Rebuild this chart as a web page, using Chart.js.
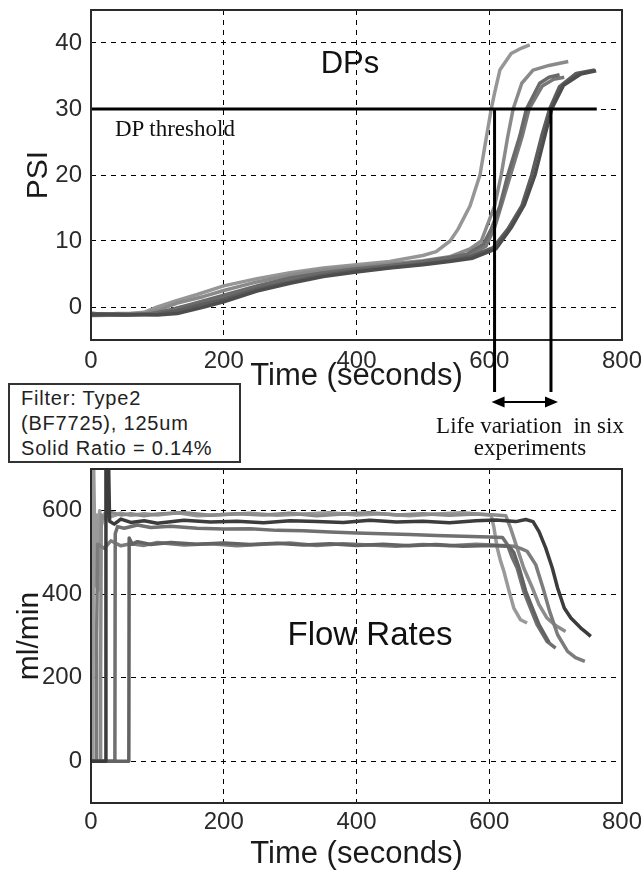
<!DOCTYPE html>
<html>
<head>
<meta charset="utf-8">
<script src="https://cdn.jsdelivr.net/npm/chart.js@4.4.1/dist/chart.umd.min.js"></script>
<style>
  html, body { margin: 0; padding: 0; background: #fff; }
  #wrap { position: relative; width: 641px; height: 872px; overflow: hidden; }
  canvas { position: absolute; left: 0; top: 0; }
  .ann { position: absolute; white-space: nowrap; color: #111; z-index: 5; line-height: 1; }
  .sans { font-family: 'Liberation Sans', Arial, sans-serif; }
  .serif { font-family: 'Liberation Serif', 'Times New Roman', serif; }
  #infobox { position: absolute; left: 8px; top: 383px; width: 233px; height: 80px; box-sizing: border-box;
             border: 2px solid #333; z-index: 5; background: #fff; }
  #infobox div { position: absolute; left: 11px; font-family: 'Liberation Sans', Arial, sans-serif; font-size: 20px;
                 line-height: 25px; letter-spacing: 0.8px; color: #222; white-space: nowrap; }
</style>
</head>
<body>
<div id="wrap">
  <canvas id="dp" width="641" height="872"></canvas>
  <canvas id="flow" width="641" height="872"></canvas>
  <div class="ann sans" style="left:250px;width:200px;text-align:center;top:47px;font-size:31px;">DPs</div>
  <div class="ann serif" style="left:115px;top:117px;font-size:23px;">DP threshold</div>
  <div class="ann sans" style="left:270px;width:200px;text-align:center;top:617px;font-size:33px;">Flow Rates</div>
  <div class="ann serif" style="left:430px;width:200px;text-align:center;top:414px;font-size:23px;">Life variation&nbsp; in six</div>
  <div class="ann serif" style="left:430px;width:200px;text-align:center;top:436px;font-size:23px;">experiments</div>
  <div id="infobox">
    <div style="top:1px;">Filter: Type2</div>
    <div style="top:26px;">(BF7725), 125um</div>
    <div style="top:51px;">Solid Ratio = 0.14%</div>
  </div>
</div>
<script>
// ---------------- DATA ----------------
const xTicks = [0, 200, 400, 600, 800];
const dpTicks = [0, 10, 20, 30, 40];
const flowTicks = [0, 200, 400, 600];

const dpThreshold = 30;
const thresholdX = [0, 762];
const lifeBounds = [608, 693];

const dp1X = [0,30,60,80,100,130,160,200,250,300,350,400,450,500,520,541,553,571,586,596,603,608,616,633,648,661];
const dp1Y = [-1,-1.1,-1,-0.8,0,1,1.9,3.2,4.3,5.2,5.9,6.4,6.9,7.8,8.4,10,11.8,15.3,20,25.9,30,32.4,35.9,38.4,39.2,39.7];
const dp2X = [0,40,80,100,130,170,200,250,300,350,400,450,500,540,571,588,608,618,628,636,649,666,690,719];
const dp2Y = [-1.2,-1,-1,-0.5,0.6,1.6,2.5,3.8,4.8,5.6,6.1,6.5,7,7.6,8.8,10,15.3,20,25.9,30,33.9,35.9,36.6,37.2];
const dp3X = [0,50,90,120,150,200,250,300,350,400,450,500,540,566,591,603,616,628,646,656,676,690,706];
const dp3Y = [-1,-1.2,-1,-0.4,0.4,1.8,3.2,4.4,5.2,5.8,6.3,6.9,7.5,8,9.5,11.8,15.3,20,25.9,30,33.9,34.8,35.2];
const dp4X = [0,60,100,130,160,200,250,300,350,400,450,500,540,570,595,608,620,632,650,660,680,697,713];
const dp4Y = [-1.3,-1.2,-1,-0.2,0.5,1.5,2.9,4,5,5.6,6.1,6.6,7.2,7.8,9.2,12,16,20,26,30,33.5,34.5,34.8];
const dp5X = [0,50,100,130,160,200,250,300,350,400,450,500,540,571,606,628,649,664,679,691,706,731,759];
const dp5Y = [-1,-1.2,-1.1,-0.6,0.2,1.2,2.7,3.8,4.8,5.5,6,6.5,7,7.6,9,11.8,15.3,20,25.9,30,33.4,35.4,35.9];
const dp6X = [0,40,100,130,170,200,250,300,350,400,450,500,540,575,610,633,653,669,684,694,712,738,761];
const dp6Y = [-1.2,-1.1,-1.2,-1,0,0.8,2.4,3.6,4.6,5.3,5.9,6.4,6.9,7.4,8.8,12,15.5,20,26,30,33.6,35.3,35.8];

const fl1X = [0,3,3.5,5,7,9,11,13,15,20,30,45,60,80,100,130,160,200,240,280,320,360,400,440,480,520,560,600,603,607,612,617,622,630,637,647,657];
const fl1Y = [0,0,760,600,420,590,410,600,560,592,586,594,589,593,590,595,588,591,594,589,592,595,590,593,588,592,595,590,588,560,511,480,455,407,367,339,331];
const fl2X = [0,14,14.5,15.5,20,30,45,60,80,100,140,180,220,260,300,340,380,420,460,500,540,580,610,625,628,632,642,652,665,675,687,700,715];
const fl2Y = [0,0,200,590,582,596,590,593,588,592,595,589,593,590,594,588,592,595,590,593,589,592,590,588,575,559,511,463,415,375,343,325,311];
const fl3X = [0,36,36.5,40,50,70,90,120,160,200,240,280,320,360,400,440,480,520,560,600,620,627,634,642,652,662,672,687,700];
const fl3Y = [0,0,545,562,558,566,560,563,558,556,557,553,552,549,547,545,543,541,539,537,536,520,490,463,407,367,327,287,271];
const fl4X = [0,57,57.5,62,70,90,120,160,200,240,280,320,360,400,440,480,520,560,600,630,637,645,655,665,675,690];
const fl4Y = [0,0,535,520,526,519,524,520,523,519,522,518,521,517,520,516,519,515,517,515,500,463,407,367,327,285];
const fl5X = [0,8,8.5,10,20,30,45,60,80,100,140,180,220,260,300,340,380,420,460,500,540,580,620,637,647,657,670,681,691,703,718,730,744];
const fl5Y = [0,0,300,520,510,528,516,521,517,524,518,521,516,520,523,517,521,518,515,519,516,520,517,515,510,503,471,415,359,303,263,248,239];
const fl6X = [0,22,22.5,26,28,35,45,60,80,100,140,180,220,260,300,340,380,420,460,500,540,580,610,640,655,666,675,685,695,703,713,723,738,745,753];
const fl6Y = [0,0,760,760,575,568,580,572,576,570,577,573,575,571,576,574,572,577,573,575,571,576,578,574,579,574,550,511,463,415,367,343,319,310,299];

// ---------------- HELPERS ----------------
const pts = (xs, ys) => xs.map((x, i) => ({ x: x, y: ys[i] }));
const TICK_FONT = { family: "'Liberation Sans',Arial,sans-serif", size: 24, lineHeight: 1 };
const TITLE_FAMILY = "'Liberation Sans',Arial,sans-serif";

function curve(xs, ys, color, w) {
  return { data: pts(xs, ys), borderColor: color, borderWidth: w || 3.5, pointRadius: 0,
           tension: 0, fill: false, borderJoinStyle: 'round' };
}

function setTicks(values) {
  return function (scale) { scale.ticks = values.map(v => ({ value: v })); };
}

function xScale(tickPad, axisHeight, titlePadBottom) {
  return {
    type: 'linear', min: 0, max: 800,
    afterBuildTicks: setTicks(xTicks),
    ticks: { font: TICK_FONT, color: '#2a2a2a', padding: tickPad, maxRotation: 0, autoSkip: false },
    grid: { color: '#000', lineWidth: 1, drawTicks: false },
    border: { display: false, dash: [5, 5] },
    title: { display: true, text: 'Time (seconds)', color: '#1a1a1a',
             font: { family: TITLE_FAMILY, size: 31, lineHeight: 1 }, padding: { top: 0, bottom: titlePadBottom } },
    afterFit: function (s) { s.height = axisHeight; s.paddingLeft = 0; s.paddingRight = 0; }
  };
}

function yScale(min, max, ticks, title, titleSize, titlePad) {
  return {
    type: 'linear', min: min, max: max,
    afterBuildTicks: setTicks(ticks),
    ticks: { font: TICK_FONT, color: '#2a2a2a', padding: 9 },
    grid: { color: '#000', lineWidth: 1, drawTicks: false },
    border: { display: false, dash: [5, 5] },
    title: { display: true, text: title, color: '#1a1a1a',
             font: { family: TITLE_FAMILY, size: titleSize, lineHeight: 1 }, padding: { top: titlePad, bottom: 0 } },
    afterFit: function (s) { s.width = 91; s.paddingTop = 0; s.paddingBottom = 0; }
  };
}

const framePlugin = {
  id: 'frame',
  afterDatasetsDraw(chart) {
    const a = chart.chartArea, c = chart.ctx;
    c.save();
    c.strokeStyle = '#2a2a2a';
    c.lineWidth = 2;
    c.strokeRect(a.left, a.top, a.right - a.left, a.bottom - a.top);
    c.restore();
  }
};

const lifePlugin = {
  id: 'life',
  afterDatasetsDraw(chart) {
    const xs = chart.scales.x, ys = chart.scales.y, c = chart.ctx;
    const yTop = ys.getPixelForValue(dpThreshold);
    const yEnd = ys.bottom + 52;
    c.save();
    c.strokeStyle = '#000';
    c.fillStyle = '#000';
    c.lineWidth = 3;
    const px = lifeBounds.map(v => xs.getPixelForValue(v));
    px.forEach(p => { c.beginPath(); c.moveTo(p, yTop); c.lineTo(p, yEnd); c.stroke(); });
    // double-headed arrow
    const ay = ys.bottom + 62;
    const x0 = px[0] - 3, x1 = px[1] + 7;
    c.lineWidth = 2;
    c.beginPath(); c.moveTo(x0 + 8, ay); c.lineTo(x1 - 8, ay); c.stroke();
    c.beginPath(); c.moveTo(x0, ay); c.lineTo(x0 + 13, ay - 5.5); c.lineTo(x0 + 13, ay + 5.5); c.closePath(); c.fill();
    c.beginPath(); c.moveTo(x1, ay); c.lineTo(x1 - 13, ay - 5.5); c.lineTo(x1 - 13, ay + 5.5); c.closePath(); c.fill();
    c.restore();
  }
};

const baseOptions = {
  responsive: false, animation: false, devicePixelRatio: 1,
  plugins: { legend: { display: false }, tooltip: { enabled: false } },
  events: []
};

// ---------------- TOP: DPs ----------------
new Chart(document.getElementById('dp'), {
  type: 'line',
  data: {
    datasets: [
      curve(thresholdX, [dpThreshold, dpThreshold], '#000', 3),
      curve(dp6X, dp6Y, '#4d4d4d'),
      curve(dp5X, dp5Y, '#5c5c5c'),
      curve(dp3X, dp3Y, '#6a6a6a'),
      curve(dp4X, dp4Y, '#787878'),
      curve(dp2X, dp2Y, '#8a8a8a'),
      curve(dp1X, dp1Y, '#969696')
    ]
  },
  options: Object.assign({}, baseOptions, {
    layout: { padding: { left: 0, top: 10, right: 19, bottom: 472 } },
    scales: {
      x: xScale(9, 60, 8.5),
      y: yScale(-5, 45, dpTicks, 'PSI', 30, 24)
    }
  }),
  plugins: [framePlugin, lifePlugin]
});

// ---------------- BOTTOM: Flow rates ----------------
new Chart(document.getElementById('flow'), {
  type: 'line',
  data: {
    datasets: [
      curve(fl6X, fl6Y, '#3c3c3c'),
      curve(fl4X, fl4Y, '#636363'),
      curve(fl3X, fl3Y, '#707070'),
      curve(fl5X, fl5Y, '#7c7c7c'),
      curve(fl2X, fl2Y, '#8c8c8c'),
      curve(fl1X, fl1Y, '#9a9a9a')
    ]
  },
  options: Object.assign({}, baseOptions, {
    layout: { padding: { left: 0, top: 469, right: 19, bottom: 0 } },
    scales: {
      x: xScale(7, 69, 2.5),
      y: yScale(-100, 700, flowTicks, 'ml/min', 30, 15)
    }
  }),
  plugins: [framePlugin]
});
</script>
</body>
</html>
